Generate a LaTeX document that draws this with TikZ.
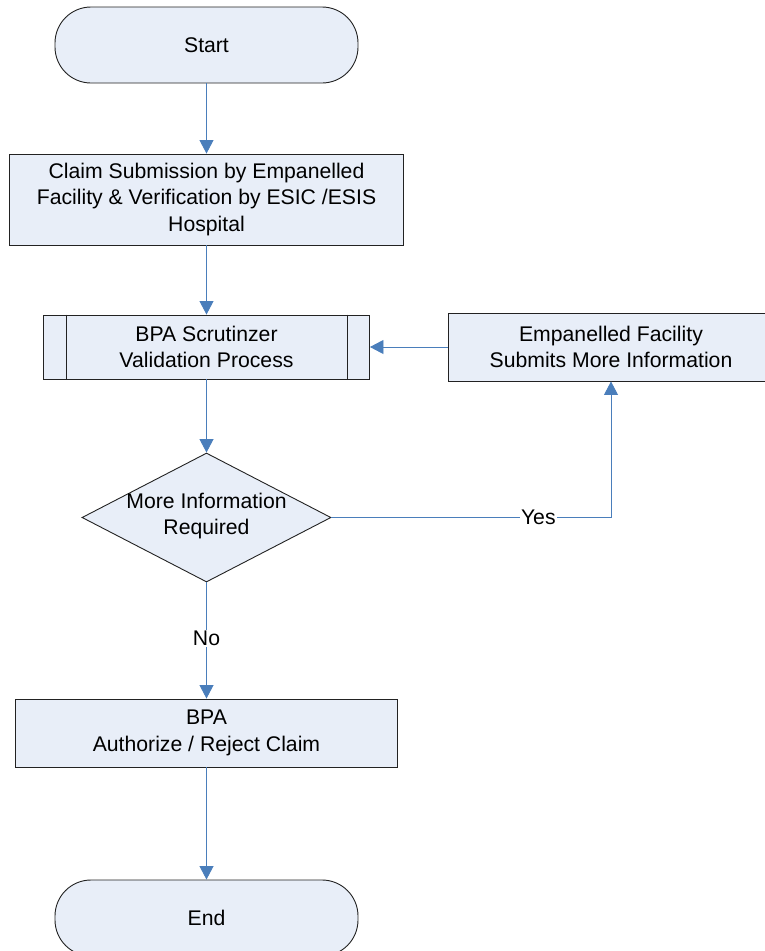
\documentclass[tikz,border=0pt]{standalone}
\usepackage{fontspec}
\setmainfont{Liberation Sans}
\usetikzlibrary{shapes.geometric,arrows.meta,calc}
\definecolor{boxfill}{HTML}{E8EEF8}
\definecolor{flowblue}{HTML}{4A7EBB}
\definecolor{boxline}{HTML}{222222}
\begin{document}
\begin{tikzpicture}[x=1pt,y=-1pt,
  every node/.style={font=\fontsize{21.2}{26.8}\selectfont, align=center, inner sep=0pt},
  procbox/.style={draw=boxline, fill=boxfill, line width=0.9pt, rectangle},
  termbox/.style={draw=boxline, fill=boxfill, line width=0.9pt, rectangle, rounded corners=36pt},
  decbox/.style={draw=boxline, fill=boxfill, line width=0.9pt, diamond},
  flow/.style={draw=flowblue, line width=0.9pt, -{Triangle[length=13.5pt,width=14pt]}},
  flowlabel/.style={fill=white, inner sep=1pt}
]
\useasboundingbox (0,0) rectangle (765,951);
\clip (0,0) rectangle (765,951);

\node[termbox, minimum width=303, minimum height=76] (start) at (206.5,45) {Start};
\node[procbox, minimum width=394, minimum height=91] (claim) at (206.5,199.5)
  {Claim Submission by Empanelled\\Facility \& Verification by ESIC /ESIS\\Hospital};
\node[procbox, minimum width=326, minimum height=64] (bpa) at (206.5,347)
  {BPA Scrutinzer\\Validation Process};
\draw[boxline, line width=0.9pt] ($(bpa.north west)+(23,0)$) -- ($(bpa.south west)+(23,0)$);
\draw[boxline, line width=0.9pt] ($(bpa.north east)+(-23,0)$) -- ($(bpa.south east)+(-23,0)$);
\node[procbox, minimum width=326, minimum height=68] (more) at (611,347)
  {Empanelled Facility\\Submits More Information};
\node[decbox, minimum width=249, minimum height=129] (dec) at (206.5,517.5) {};
\node (dectext) at (206.5,516) {More Information\\Required};
\node[procbox, minimum width=382, minimum height=68] (auth) at (206.5,733)
  {BPA\\Authorize / Reject Claim};
\node[termbox, minimum width=303, minimum height=76] (end) at (206.5,918) {End};

\draw[flow] (start.south) -- (claim.north);
\draw[flow] (claim.south) -- (bpa.north);
\draw[flow] (bpa.south) -- (dec.north);
\draw[flow] (dec.south) -- node[flowlabel, pos=0.48] {No} (auth.north);
\draw[flow] (auth.south) -- (end.north);
\draw[flow] (dec.east) -| node[flowlabel, pos=0.37] {Yes} (more.south);
\draw[flow] (more.west) -- (bpa.east);
\end{tikzpicture}
\end{document}
